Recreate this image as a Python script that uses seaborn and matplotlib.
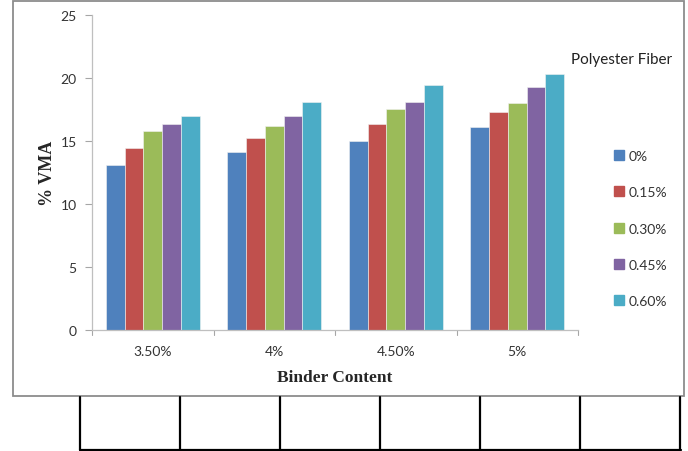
import matplotlib
matplotlib.use("Agg")
import matplotlib.pyplot as plt
from matplotlib.patches import Rectangle
from matplotlib.lines import Line2D
import seaborn as sns
import pandas as pd

# Data: % VMA by binder content for each polyester fiber dosage
binder_content = ["3.50%", "4%", "4.50%", "5%"]
fiber_levels = ["0%", "0.15%", "0.30%", "0.45%", "0.60%"]
vma_0 = [13.1, 14.1, 15.0, 16.1]
vma_015 = [14.4, 15.2, 16.3, 17.3]
vma_030 = [15.8, 16.2, 17.5, 18.0]
vma_045 = [16.3, 17.0, 18.1, 19.3]
vma_060 = [17.0, 18.1, 19.4, 20.3]
y_ticks = [0, 5, 10, 15, 20, 25]

colors = ["#4F81BD", "#C0504D", "#9BBB59", "#8064A2", "#4BACC6"]

series = [vma_0, vma_015, vma_030, vma_045, vma_060]
rows = []
for level, vals in zip(fiber_levels, series):
    for bc, v in zip(binder_content, vals):
        rows.append({"Binder Content": bc, "Fiber": level, "VMA": v})
df = pd.DataFrame(rows)

sns.set_style("white")
plt.rcParams["font.family"] = ["Lato", "DejaVu Sans"]

W, H = 688, 452
fig = plt.figure(figsize=(W / 100, H / 100), dpi=100)
ax = fig.add_axes([92 / W, 1 - 330.5 / H, (578 - 92) / W, (330.5 - 16) / H])

sns.barplot(data=df, x="Binder Content", y="VMA", hue="Fiber",
            order=binder_content, hue_order=fiber_levels, palette=colors,
            width=0.77, saturation=1, edgecolor="#F2F2F2", linewidth=0.4,
            errorbar=None, legend=True, ax=ax)

ax.set_ylim(0, 25)
ax.set_xlim(-0.5, len(binder_content) - 0.5)
ax.set_yticks(y_ticks)
ax.set_yticklabels([str(t) for t in y_ticks], fontsize=10, color="#333333")
ax.set_xticks(range(len(binder_content)))
ax.set_xticklabels(binder_content, fontsize=10, color="#333333")
ax.tick_params(axis="x", length=0, pad=11)
ax.tick_params(axis="y", length=5, width=0.8, color="#A6A6A6", pad=6, left=True)

# category boundary ticks on the x axis
for b in [i - 0.5 for i in range(len(binder_content) + 1)]:
    ax.plot([b, b], [0, -0.4], color="#A6A6A6", lw=0.8, clip_on=False)

for s in ["top", "right"]:
    ax.spines[s].set_visible(False)
for s in ["left", "bottom"]:
    ax.spines[s].set_color("#BFBFBF")
    ax.spines[s].set_linewidth(0.9)

ax.set_xlabel("Binder Content", fontsize=12.5, fontweight="bold",
              family="Liberation Serif", labelpad=9)
ax.set_ylabel("% VMA", fontsize=13, fontweight="bold",
              family="Liberation Serif", labelpad=3)

# legend on the right with the title set well above the entries
handles, labels = ax.get_legend_handles_labels()
leg_handles = [Line2D([], [], marker="s", linestyle="none", markersize=6.5,
                      markerfacecolor=c, markeredgecolor=c) for c in colors]
ax.legend(leg_handles, labels, loc="upper left",
          bbox_to_anchor=(606 / W, 1 - 144 / H), bbox_transform=fig.transFigure,
          frameon=False, fontsize=10, handlelength=0.8, handletextpad=0.3,
          labelspacing=1.75, borderpad=0, labelcolor="#333333")
fig.text(622 / W, 1 - 60 / H, "Polyester Fiber", fontsize=11, ha="center",
         va="center", color="#222222")

# chart frame
fig.add_artist(Rectangle((12.5 / W, 1 - 396.5 / H), (684 - 12.5) / W, (396.5 - 1.5) / H,
                         transform=fig.transFigure, fill=False,
                         edgecolor="#8C8C8C", linewidth=1.3))

# empty table cells below the chart
for x in [80, 180, 280, 380, 480, 580, 680]:
    fig.add_artist(Line2D([x / W, x / W], [1 - 397.5 / H, 1 - 451 / H],
                          transform=fig.transFigure, color="black", linewidth=1.6))
fig.add_artist(Line2D([79.5 / W, 680.5 / W], [1 - 450.5 / H, 1 - 450.5 / H],
                      transform=fig.transFigure, color="black", linewidth=1.6))

fig.savefig("out.png", dpi=100)
